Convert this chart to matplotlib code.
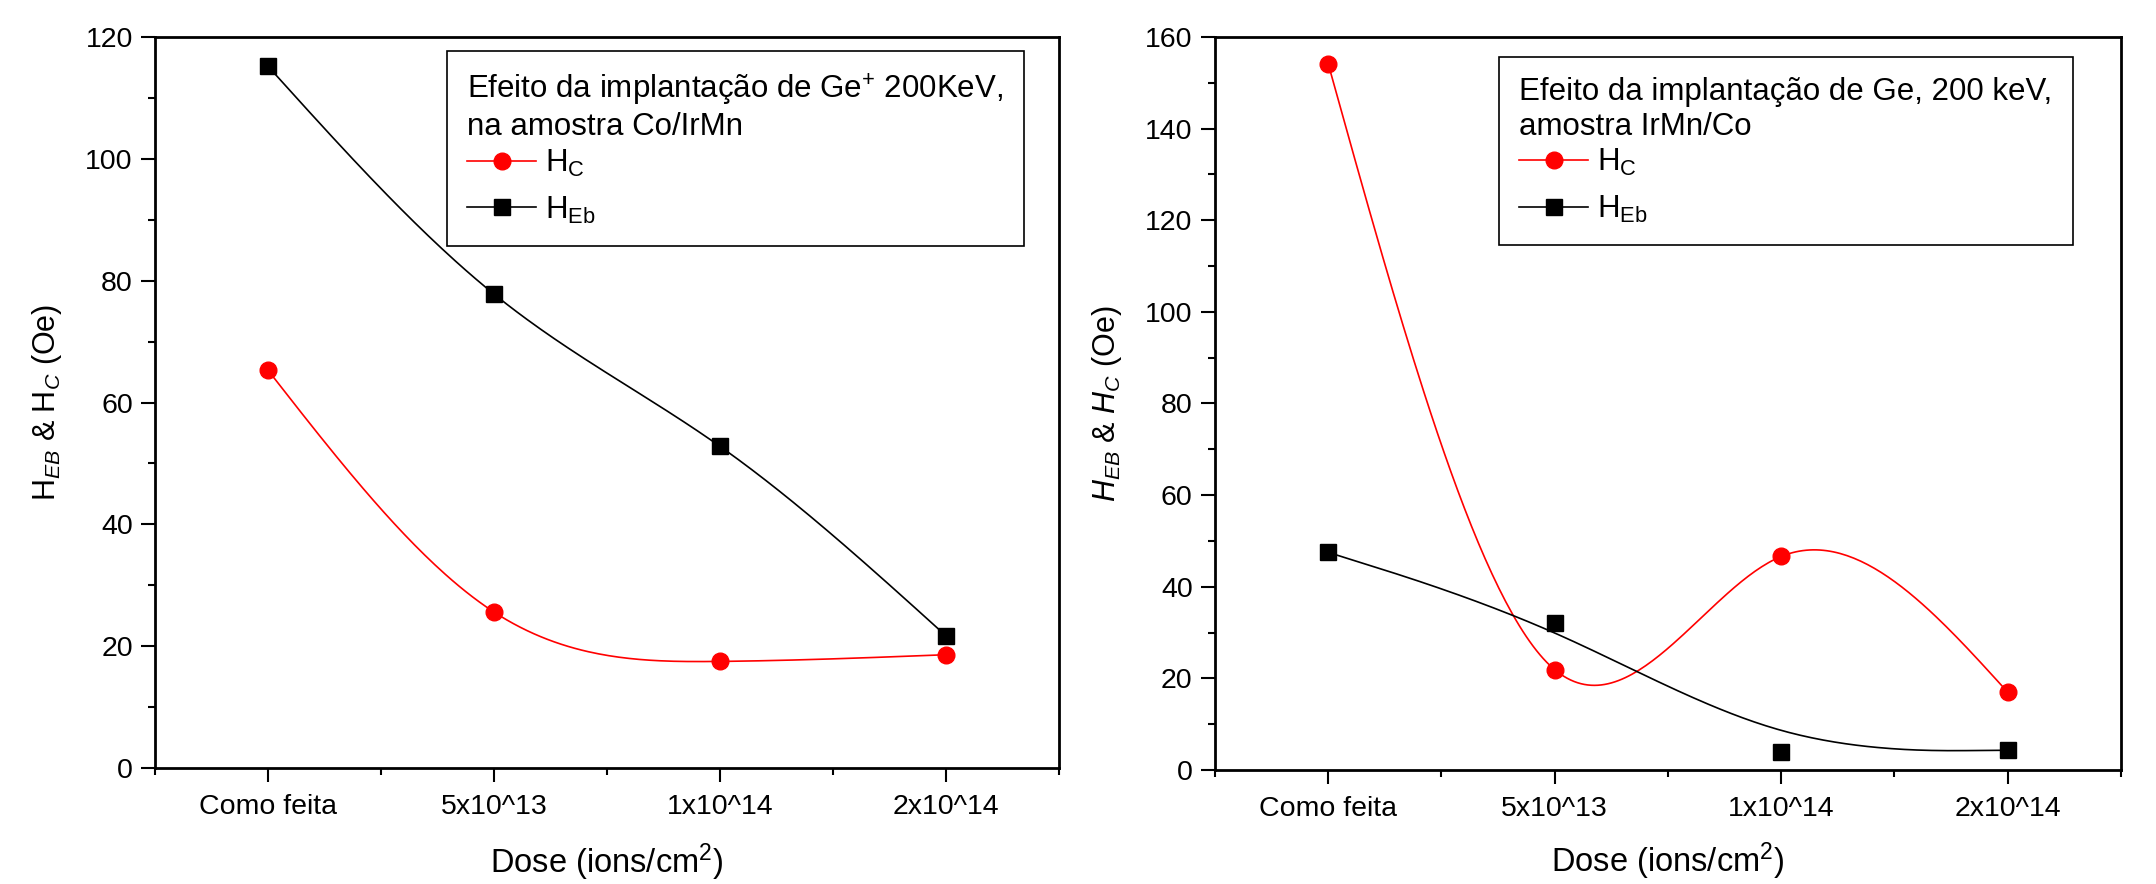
import numpy as np
import matplotlib
matplotlib.use('Agg')
import matplotlib.pyplot as plt
from matplotlib.ticker import MultipleLocator, FixedLocator

plt.rcParams['font.family'] = ['Liberation Sans', 'DejaVu Sans']
plt.rcParams['mathtext.fontset'] = 'custom'
plt.rcParams['mathtext.rm'] = 'Liberation Sans'
plt.rcParams['mathtext.it'] = 'Liberation Sans:italic'
plt.rcParams['mathtext.bf'] = 'Liberation Sans:bold'

# dose categories
doses = ['Como feita', '5x10^13', '1x10^14', '2x10^14']

# Co/IrMn sample (left)
hc_coirmn = [65.3, 25.6, 17.5, 18.6]
heb_coirmn = [115.2, 77.8, 52.8, 21.7]

# IrMn/Co sample (right)
hc_irmnco = [154.2, 21.9, 46.6, 17.0]
heb_irmnco = [47.5, 32.0, 3.9, 4.3]


def natural_spline(x, y, n=200):
    # plain natural cubic spline through the points
    x = np.asarray(x, float)
    y = np.asarray(y, float)
    k = len(x)
    h = np.diff(x)
    A = np.zeros((k, k))
    b = np.zeros(k)
    A[0, 0] = 1
    A[-1, -1] = 1
    for i in range(1, k - 1):
        A[i, i - 1] = h[i - 1]
        A[i, i] = 2 * (h[i - 1] + h[i])
        A[i, i + 1] = h[i]
        b[i] = 6 * ((y[i + 1] - y[i]) / h[i] - (y[i] - y[i - 1]) / h[i - 1])
    M = np.linalg.solve(A, b)
    xs = np.linspace(x[0], x[-1], n)
    idx = np.clip(np.searchsorted(x, xs) - 1, 0, k - 2)
    x0, x1 = x[idx], x[idx + 1]
    hh = x1 - x0
    ys = (M[idx] * (x1 - xs) ** 3 / (6 * hh) + M[idx + 1] * (xs - x0) ** 3 / (6 * hh)
          + (y[idx] / hh - M[idx] * hh / 6) * (x1 - xs)
          + (y[idx + 1] / hh - M[idx + 1] * hh / 6) * (xs - x0))
    return xs, ys


def bspline(x, y, n=60):
    # uniform cubic B-spline, end points repeated so it starts/ends on them
    P = np.column_stack([x, y]).astype(float)
    Q = np.vstack([P[0], P[0], P, P[-1], P[-1]])
    t = np.linspace(0, 1, n)
    B = np.column_stack([(1 - t) ** 3,
                         3 * t ** 3 - 6 * t ** 2 + 4,
                         -3 * t ** 3 + 3 * t ** 2 + 3 * t + 1,
                         t ** 3]) / 6
    pts = [B @ Q[i:i + 4] for i in range(len(Q) - 3)]
    c = np.vstack(pts)
    return c[:, 0], c[:, 1]


fig = plt.figure(figsize=(21.56, 8.84), dpi=100)
ax1 = fig.add_axes([0.0719, 0.1312, 0.4193, 0.8269])
ax2 = fig.add_axes([0.5635, 0.1290, 0.4202, 0.8292])

xpos = np.arange(1, len(doses) + 1)


def style(ax, ymax, xlab_y):
    ax.set_xlim(0.5, 4.5)
    ax.set_ylim(0, ymax)
    ax.xaxis.set_major_locator(FixedLocator(xpos))
    ax.xaxis.set_minor_locator(FixedLocator(np.arange(0.5, 4.6, 1.0)))
    ax.set_xticklabels(doses)
    ax.yaxis.set_major_locator(MultipleLocator(20))
    ax.yaxis.set_minor_locator(MultipleLocator(10))
    ax.tick_params(which='both', direction='out', top=False, right=False, width=1.5)
    ax.tick_params(which='major', length=10, labelsize=20.5)
    ax.tick_params(axis='y', which='major', pad=6)
    ax.tick_params(axis='x', which='major', pad=9)
    ax.tick_params(which='minor', length=5)
    for s in ax.spines.values():
        s.set_linewidth(2)
    ax.set_xlabel('Dose (ions/cm$^\\mathregular{2}$)', fontsize=23.5)
    ax.xaxis.label.set_va('baseline')
    ax.xaxis.set_label_coords(0.5, xlab_y)


def plot_series(ax, x, y, curve, color, marker, label, ms):
    cx, cy = curve(x, y)
    ax.plot(cx, cy, color=color, lw=1.2, zorder=2)
    ax.plot(x, y, ls='none', marker=marker, color=color, ms=ms, zorder=3)
    # proxy for legend (line + marker)
    ax.plot([], [], color=color, lw=1.2, marker=marker, ms=ms, label=label)


plot_series(ax1, xpos, hc_coirmn, natural_spline, 'red', 'o', 'H$_\\mathregular{C}$', 12)
plot_series(ax1, xpos, heb_coirmn, natural_spline, 'black', 's', 'H$_\\mathregular{Eb}$', 11)
style(ax1, 120, -0.144)
ax1.set_ylabel('H$_{EB}$ & H$_C$ (Oe)', fontsize=22)
ax1.yaxis.set_label_coords(-0.1007, 0.5)

plot_series(ax2, xpos, hc_irmnco, natural_spline, 'red', 'o', 'H$_\\mathregular{C}$', 12)
plot_series(ax2, xpos, heb_irmnco, bspline, 'black', 's', 'H$_\\mathregular{Eb}$', 11)
style(ax2, 160, -0.140)
ax2.set_ylabel('$H_{EB}$ & $H_C$ (Oe)', fontsize=22)
ax2.yaxis.set_label_coords(-0.1004, 0.5)

leg_kw = dict(loc='upper left', borderaxespad=0, fontsize=22.5, title_fontsize=22.5,
              fancybox=False, edgecolor='black', framealpha=1, alignment='left',
              handlelength=2.2, handletextpad=0.3, labelspacing=0.5,
              borderpad=0.65)
l1 = ax1.legend(title='Efeito da implantação de Ge$^\\mathregular{+}$ 200KeV,\nna amostra Co/IrMn',
                bbox_to_anchor=(0.323, 0.981), **leg_kw)
l2 = ax2.legend(title='Efeito da implantação de Ge, 200 keV,\namostra IrMn/Co',
                bbox_to_anchor=(0.3135, 0.973), **leg_kw)
for l in (l1, l2):
    l.get_frame().set_linewidth(1.2)
    l._legend_box.sep = 4

fig.savefig('out.png', dpi=100)
